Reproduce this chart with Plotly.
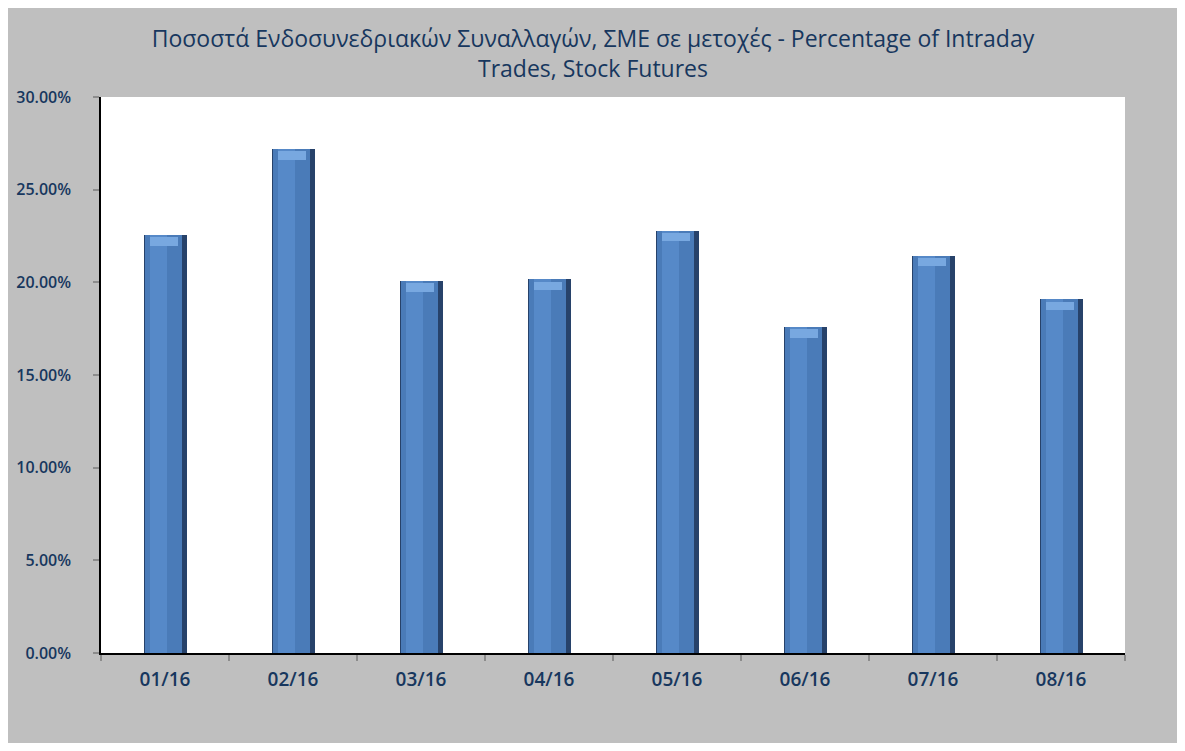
import plotly.graph_objects as go

categories = ["01/16", "02/16", "03/16", "04/16", "05/16", "06/16", "07/16", "08/16"]
values = [22.55, 27.19, 20.07, 20.16, 22.79, 17.59, 21.44, 19.08]
y_ticks = [0, 5, 10, 15, 20, 25, 30]
y_tick_labels = ["0.00%", "5.00%", "10.00%", "15.00%", "20.00%", "25.00%", "30.00%"]

title_text = ("Ποσοστά Ενδοσυνεδριακών Συναλλαγών, ΣΜΕ σε μετοχές - Percentage of Intraday"
              "<br>Trades, Stock Futures")

# page body has an 8px margin, so the figure starts at (8, 8)
W, H = 1177, 735
L, R, T, B = 93, 60, 89, 90
FONT = "Open Sans, Noto Sans, sans-serif"
TXT = "#17375e"

fig = go.Figure()
# dark body (edges)
fig.add_trace(go.Bar(x=categories, y=values, width=0.336, offset=-0.168,
                     marker=dict(color="#27426a", line=dict(width=0)), hoverinfo="skip"))
# main face
fig.add_trace(go.Bar(x=categories, y=values, width=0.29, offset=-0.16,
                     marker=dict(color="#4a7bb8", line=dict(width=0)), hoverinfo="skip"))
# central highlight
fig.add_trace(go.Bar(x=categories, y=values, width=0.13, offset=-0.115,
                     marker=dict(color="#5689c8", line=dict(width=0)), hoverinfo="skip"))
# bevel cap near top
cap_h = 0.45
fig.add_trace(go.Bar(x=categories, y=[cap_h] * len(values), base=[v - cap_h - 0.12 for v in values],
                     width=0.22, offset=-0.12,
                     marker=dict(color="#78a8e0", line=dict(width=0)), hoverinfo="skip"))

fig.update_layout(
    width=W, height=H,
    margin=dict(l=L, r=R, t=T, b=B, pad=0, autoexpand=False),
    paper_bgcolor="#bfbfbf",
    plot_bgcolor="white",
    barmode="overlay",
    showlegend=False,
    bargap=0,
    font=dict(family=FONT, color=TXT),
    title=dict(text=title_text, x=0.497, xanchor="center", y=1 - 39 / H, yanchor="top",
               font=dict(size=23, color=TXT, family=FONT), automargin=False),
    xaxis=dict(showline=True, linecolor="black", linewidth=1.5, ticks="outside",
               tickson="boundaries", ticklen=6, tickcolor="#8c8c8c", tickwidth=1.5,
               tickfont=dict(size=19, color=TXT, family=FONT, weight=600),
               showgrid=False, zeroline=False, ticklabelstandoff=8, automargin=False),
    yaxis=dict(range=[0, 30], tickvals=y_ticks, ticktext=y_tick_labels,
               showline=True, linecolor="black", linewidth=1.5, ticks="outside",
               ticklen=6, tickcolor="#8c8c8c", tickwidth=1.5,
               tickfont=dict(size=16, color=TXT, family=FONT, weight=600),
               showgrid=False, zeroline=False, ticklabelstandoff=19, automargin=False),
)

fig.write_html("out.html")
